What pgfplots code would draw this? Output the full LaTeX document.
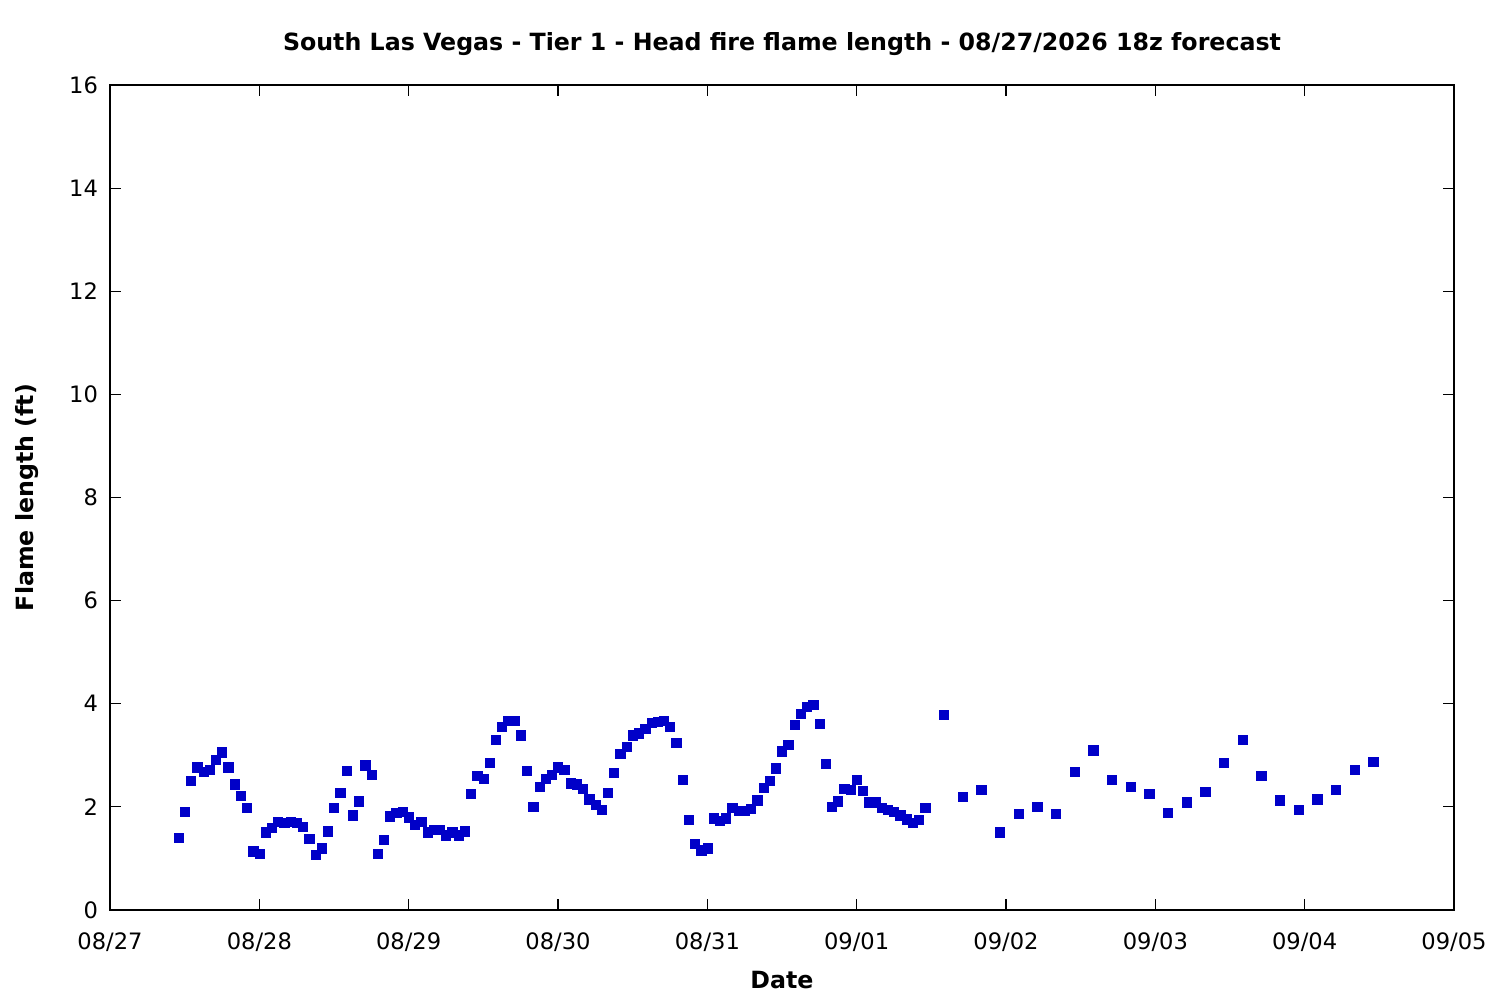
\documentclass[border=0pt]{standalone}
\usepackage{pgfplots}
\pgfplotsset{compat=1.18}
\usepackage{fontspec}
\setmainfont{DejaVu Sans}
\definecolor{ptblue}{RGB}{0,0,200}
\newcommand{\tf}{\fontsize{11.3}{13.6}\selectfont}
\newcommand{\lf}{\fontsize{11.85}{14.2}\selectfont}
\begin{document}
\begin{tikzpicture}
\path[use as bounding box] (-55pt,-45pt) rectangle (695pt,455pt);
\begin{axis}[
  at={(0,0)}, anchor=south west,
  scale only axis, width=672pt, height=412.5pt,
  xmin=0, xmax=216, ymin=0, ymax=16,
  xtick={0,24,...,216},
  xticklabels={08/27,08/28,08/29,08/30,08/31,09/01,09/02,09/03,09/04,09/05},
  ytick={0,2,...,16},
  tick align=inside, major tick length=5.5pt,
  axis line style={line width=0.6pt},
  tick style={line width=0.6pt, black},
  /pgf/number format/assume math mode=true,
  ticklabel style={font=\tf},
  xticklabel style={yshift=-8pt},
  yticklabel style={xshift=-2.5pt},
  clip=false,
]
\addplot[only marks, mark=square*, mark size=2.3pt, mark options={fill=ptblue, draw=ptblue, line width=0.2pt}] coordinates {
(11,1.40) (12,1.90) (13,2.50) (14,2.77) (15,2.68) (16,2.72) (17,2.91) (18,3.06)
(19,2.77) (20,2.44) (21,2.21) (22,1.98) (23,1.14) (24,1.09) (25,1.51) (26,1.59)
(27,1.71) (28,1.69) (29,1.71) (30,1.69) (31,1.61) (32,1.38) (33,1.07) (34,1.20)
(35,1.53) (36,1.98) (37,2.27) (38,2.70) (39,1.84) (40,2.11) (41,2.81) (42,2.62)
(43,1.09) (44,1.36) (45,1.82) (46,1.88) (47,1.90) (48,1.80) (49,1.65) (50,1.71)
(51,1.51) (52,1.55) (53,1.55) (54,1.45) (55,1.51) (56,1.45) (57,1.53) (58,2.25)
(59,2.60) (60,2.54) (61,2.85) (62,3.30) (63,3.55) (64,3.67) (65,3.67) (66,3.39)
(67,2.70) (68,2.00) (69,2.39) (70,2.54) (71,2.62) (72,2.77) (73,2.72) (74,2.46)
(75,2.44) (76,2.35) (77,2.15) (78,2.04) (79,1.94) (80,2.27) (81,2.66) (82,3.03)
(83,3.16) (84,3.39) (85,3.43) (86,3.51) (87,3.63) (88,3.65) (89,3.67) (90,3.55)
(91,3.24) (92,2.52) (93,1.75) (94,1.28) (95,1.16) (96,1.20) (97,1.78) (98,1.73)
(99,1.78) (100,1.98) (101,1.92) (102,1.92) (103,1.96) (104,2.13) (105,2.37) (106,2.50)
(107,2.75) (108,3.08) (109,3.20) (110,3.59) (111,3.80) (112,3.94) (113,3.98) (114,3.61)
(115,2.83) (116,2.00) (117,2.11) (118,2.35) (119,2.33) (120,2.52) (121,2.31) (122,2.09)
(123,2.09) (124,1.98) (125,1.94) (126,1.90) (127,1.84) (128,1.76) (129,1.69) (130,1.75)
(131,1.98)
(134,3.78) (137,2.19) (140,2.33) (143,1.51) (146,1.86) (149,2.00) (152,1.86) (155,2.68)
(158,3.10) (161,2.52) (164,2.39) (167,2.25) (170,1.88) (173,2.09) (176,2.29) (179,2.85)
(182,3.30) (185,2.60) (188,2.13) (191,1.94) (194,2.15) (197,2.33) (200,2.72) (203,2.87)
};
\end{axis}
\node[font=\lf\bfseries] at (336pt,433pt) {South Las Vegas - Tier 1 - Head fire flame length - 08/27/2026 18z forecast};
\node[font=\lf\bfseries] at (336pt,-35pt) {Date};
\node[font=\lf\bfseries, rotate=90] at (-41.5pt,206.25pt) {Flame length (ft)};
\end{tikzpicture}
\end{document}
